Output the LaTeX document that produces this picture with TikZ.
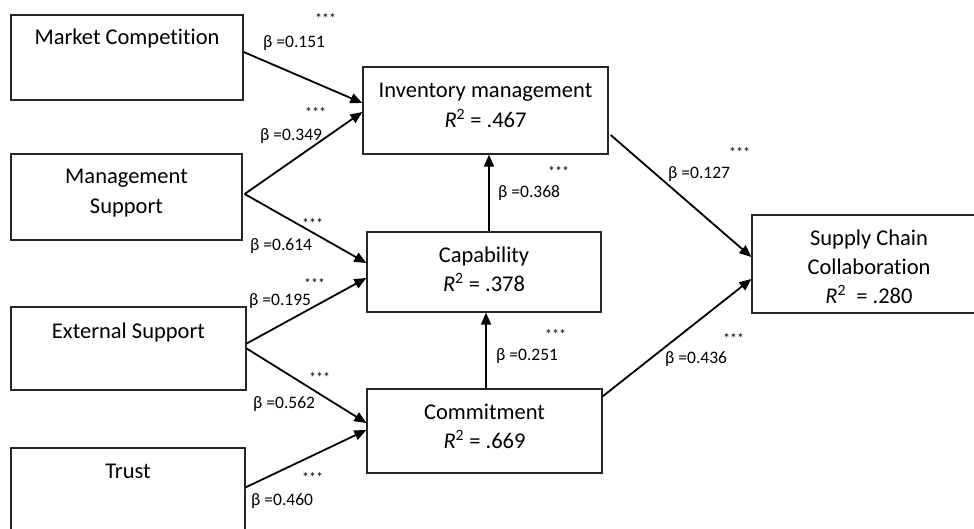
\documentclass[tikz,border=0pt]{standalone}
\usepackage{fontspec}
\setmainfont[Ligatures={NoCommon}]{Carlito}
\usetikzlibrary{arrows.meta,calc}
\newcommand{\rsq}[1]{\textit{R}\textsuperscript{2} = #1}
\begin{document}
\begin{tikzpicture}[x=1pt,y=-1pt,
  box/.style={draw=black!85,line width=1.3pt,inner sep=0pt,rectangle},
  boxtxt/.style={font=\fontsize{22.5}{26}\selectfont,anchor=base,inner sep=0pt},
  betalbl/.style={font=\fontsize{17.5}{20}\selectfont,anchor=base west,inner sep=0pt},
  starlbl/.style={font=\fontsize{14}{16}\selectfont,anchor=base west,inner sep=0pt},
  arr/.style={line width=1.8pt,-{Triangle[length=12pt,width=10pt]}}]
\fill[white] (0,0) rectangle (974,528);
\useasboundingbox (0,0) rectangle (974,528);
% boxes
\node[box,minimum width=232pt,minimum height=85pt] (mc) at (127,57.5) {};
\node[box,minimum width=231pt,minimum height=86pt] (ms) at (126.5,197) {};
\node[box,minimum width=235pt,minimum height=83pt] (es) at (128.5,348.5) {};
\node[box,minimum width=234pt,minimum height=110pt] (tr) at (128,503) {};
\node[box,minimum width=245pt,minimum height=87pt] (im) at (485.5,110.5) {};
\node[box,minimum width=234pt,minimum height=80pt] (cap) at (484,272) {};
\node[box,minimum width=235pt,minimum height=84pt] (com) at (484.5,431) {};
\node[box,minimum width=240pt,minimum height=98pt] (scc) at (872,264) {};
% box texts
\node[boxtxt] (mct) at (127,44) {Market Competition};
\node[boxtxt] (mst1) at (126.5,183) {Management};
\node[boxtxt] (mst2) at (126.5,213) {Support};
\node[boxtxt] (est) at (128.5,338) {External Support};
\node[boxtxt] (trt) at (128,478) {Trust};
\node[boxtxt] (imt1) at (485.5,97) {Inventory management};
\node[boxtxt] (imt2) at (485.5,127) {\rsq{.467}};
\node[boxtxt] (capt1) at (484,262) {Capability};
\node[boxtxt] (capt2) at (484,291) {\rsq{.378}};
\node[boxtxt] (comt1) at (484.5,419) {Commitment};
\node[boxtxt] (comt2) at (484.5,448) {\rsq{.669}};
\node[boxtxt] (scct1) at (869,245) {Supply Chain};
\node[boxtxt] (scct2) at (869,274) {Collaboration};
\node[boxtxt] (scct3) at (869,303) {\textit{R}\textsuperscript{2}\ \ = .280};
% arrows
\draw[arr] ($(mc.east)+(0,-5.5)$) -- ($(im.west)+(0,-7.5)$);
\draw[arr] ($(ms.east)+(2,-3)$) -- ($(im.west)+(0,1.5)$);
\draw[arr] ($(ms.east)+(2,-3)$) -- ($(cap.west)+(0,-9)$);
\draw[arr] ($(es.east)+(0,-5)$) -- ($(cap.west)+(0,6)$);
\draw[arr] ($(es.east)+(0,0)$) -- ($(com.west)+(0,-8)$);
\draw[arr] ($(tr.north east)+(0,40)$) -- ($(com.west)+(0,-1)$);
\draw[arr] ($(cap.north)+(5,0)$) -- ($(im.south)+(3.5,0)$);
\draw[arr] ($(com.north)+(1.5,0)$) -- ($(cap.south)+(2,0)$);
\draw[arr] ($(im.east)+(2,24.5)$) -- ($(scc.west)+(0,-7)$);
\draw[arr] ($(com.north east)+(0,8)$) -- ($(scc.west)+(0,15)$);
% labels
\node[betalbl] (b1) at (263,47) {β =0.151};
\node[starlbl] (s1) at (315,23) {***};
\node[betalbl] (b2) at (260,140) {β =0.349};
\node[starlbl] (s2) at (305,117) {***};
\node[betalbl] (b3) at (250,250) {β =0.614};
\node[starlbl] (s3) at (302,228) {***};
\node[betalbl] (b4) at (249,305) {β =0.195};
\node[starlbl] (s4) at (304,288) {***};
\node[betalbl] (b5) at (253,408) {β =0.562};
\node[starlbl] (s5) at (309,382) {***};
\node[betalbl] (b6) at (251,505) {β =0.460};
\node[starlbl] (s6) at (302,482) {***};
\node[betalbl] (b7) at (498,197) {β =0.368};
\node[starlbl] (s7) at (548,176) {***};
\node[betalbl] (b8) at (496,360) {β =0.251};
\node[starlbl] (s8) at (545,339) {***};
\node[betalbl] (b9) at (668,178) {β =0.127};
\node[starlbl] (s9) at (729,157) {***};
\node[betalbl] (b10) at (665,363) {β =0.436};
\node[starlbl] (s10) at (723,343) {***};
\end{tikzpicture}
\end{document}
